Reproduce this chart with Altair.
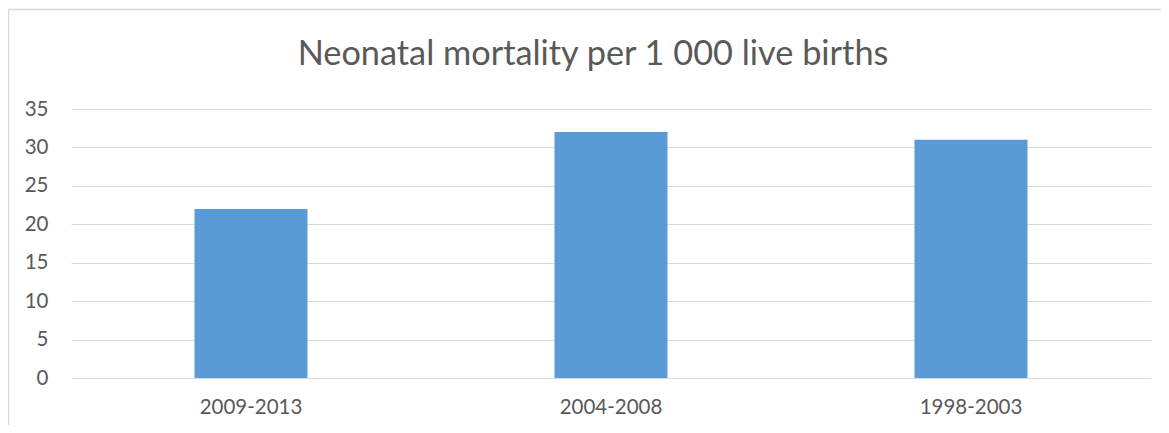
import altair as alt
import pandas as pd

periods = ["2009-2013", "2004-2008", "1998-2003"]
mortality = [22, 32, 31]
y_ticks = [0, 5, 10, 15, 20, 25, 30, 35]
title_text = ["Neonatal mortality per 1 000 live births"]

df = pd.DataFrame({"period": periods, "value": mortality})

FONT = "Lato"
TXT = "#595959"
GRID = "#D9D9D9"

bars = alt.Chart(df).mark_bar(
    color="#5B9BD5", width=alt.RelativeBandSize(0.314)
).encode(
    x=alt.X("period:N", sort=periods, title=None,
            scale=alt.Scale(paddingInner=0, paddingOuter=0),
            axis=alt.Axis(labelAngle=0, labelFont=FONT, labelFontSize=20.5,
                          labelColor=TXT, labelPadding=19, ticks=False,
                          domain=False, grid=False)),
    y=alt.Y("value:Q", title=None,
            scale=alt.Scale(domain=[0, 35], nice=False),
            axis=alt.Axis(values=y_ticks, labelFont=FONT, labelFontSize=20.5,
                          labelColor=TXT, labelPadding=23, ticks=False,
                          domain=False, grid=True, gridColor=GRID,
                          gridWidth=1.2)),
)

frame_left = alt.Chart(pd.DataFrame({"f": [0]})).mark_rule(
    color=GRID, strokeWidth=1.5
).encode(x=alt.value(-62.5), y=alt.value(-99.5), y2=alt.value(330))

frame_top = alt.Chart(pd.DataFrame({"f": [0]})).mark_rule(
    color=GRID, strokeWidth=1.5
).encode(x=alt.value(-62.5), x2=alt.value(1095), y=alt.value(-99.5))

title = alt.Chart(pd.DataFrame({"t": title_text})).mark_text(
    font=FONT, fontSize=34.3, color=TXT, align="center", baseline="alphabetic"
).encode(text="t:N", x=alt.value(522), y=alt.value(-44))

chart = alt.layer(frame_left, frame_top, title, bars).properties(
    width=1080,
    height=269,
    padding={"left": 63, "top": 101, "right": 10, "bottom": 47},
    autosize=alt.AutoSizeParams(type="none"),
).configure_view(stroke=None)

chart.save("out.html", embed_options={"renderer": "svg", "actions": False})
